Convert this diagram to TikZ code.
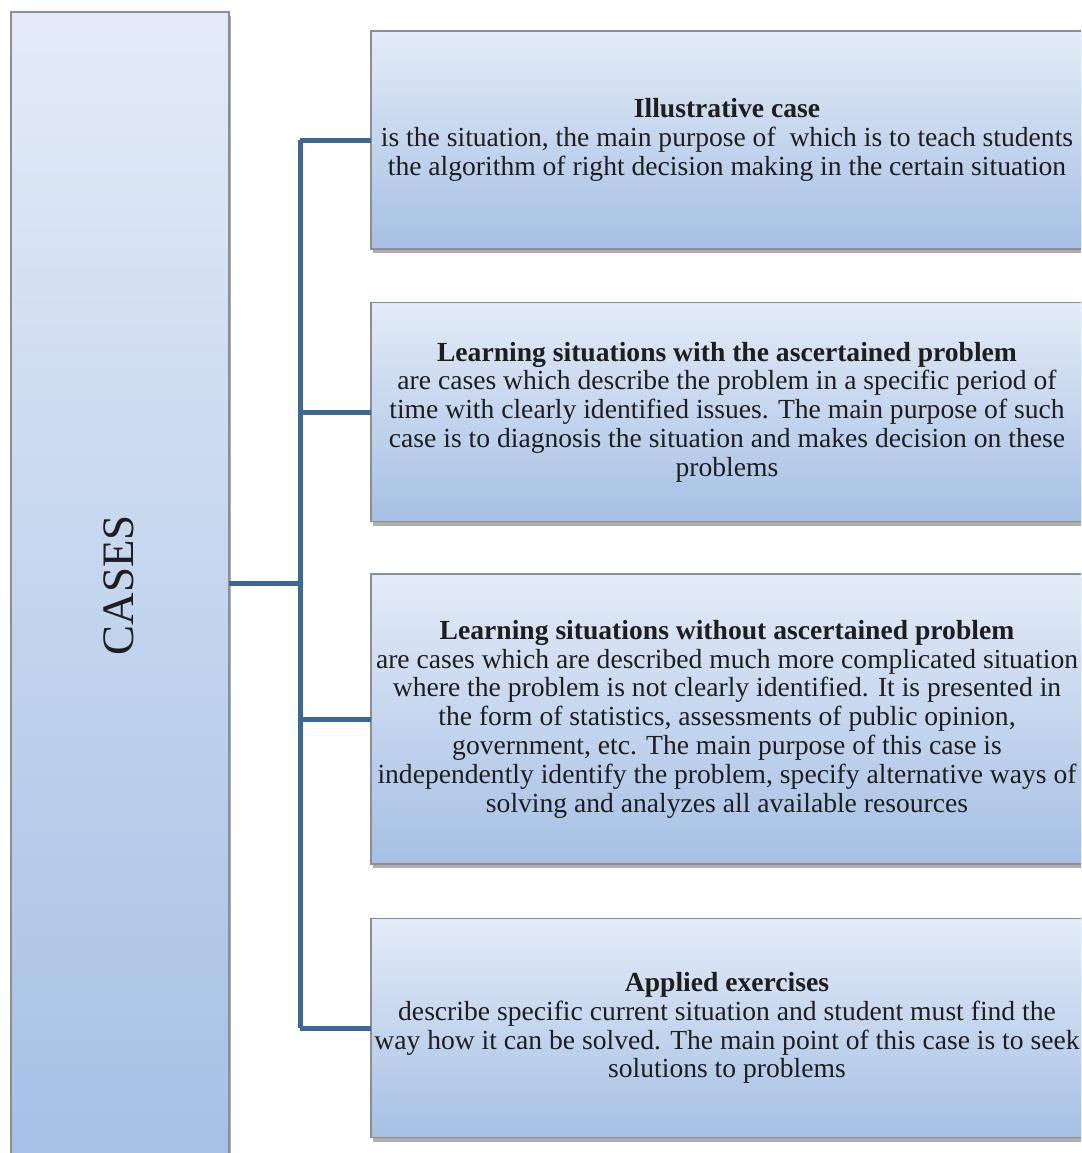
\documentclass[tikz,border=0pt]{standalone}
\usepackage{fontspec}
\setmainfont{Liberation Serif}
\usetikzlibrary{shadows}
\definecolor{boxtop}{HTML}{E3EBF7}
\definecolor{boxbot}{HTML}{A6C0E5}
\definecolor{linkblue}{HTML}{3D6699}
\definecolor{edgegray}{HTML}{8A8E96}
\definecolor{ink}{HTML}{1E1E1E}
\begin{document}
\begin{tikzpicture}[x=1pt,y=-1pt,
  panel/.style={draw=edgegray, line width=1.2pt, top color=boxtop, bottom color=boxbot,
    inner sep=0pt, outer sep=0pt,
    drop shadow={shadow xshift=1.5pt, shadow yshift=-4pt, opacity=0.45, fill=black!70}},
  casebox/.style={panel, minimum width=712pt, text=ink, align=center,
    font=\fontsize{27.6}{28.8}\selectfont},
  link/.style={draw=linkblue, line width=5pt}]
\useasboundingbox (0,0) rectangle (1081,1153);
\clip (0,0) rectangle (1081,1153);

% main category column
\node[panel, minimum width=218pt, minimum height=1150pt] (cases) at (120,587) {};
\node[rotate=90, text=ink, font=\fontsize{45}{50}\selectfont] (casestitle) at (119,585) {CASES};

% the four kinds of cases
\node[casebox, minimum height=218pt] (b1) at (727,140)
  {\textbf{Illustrative case}\\
   is the situation, the main purpose of\ \ which is to teach students\\
   the algorithm of right decision making in the certain situation};
\node[casebox, minimum height=219pt] (b2) at (727,412)
  {\textbf{Learning situations with the ascertained problem}\\
   are cases which describe the problem in a specific period of\\
   time with clearly identified issues. The main purpose of such\\
   case is to diagnosis the situation and makes decision on these\\
   problems};
\node[casebox, minimum height=290pt] (b3) at (727,719)
  {\textbf{Learning situations without ascertained problem}\\
   are cases which are described much more complicated situation\\
   where the problem is not clearly identified. It is presented in\\
   the form of statistics, assessments of public opinion,\\
   government, etc. The main purpose of this case is\\
   independently identify the problem, specify alternative ways of\\
   solving and analyzes all available resources};
\node[casebox, minimum height=219pt] (b4) at (727,1028)
  {\textbf{Applied exercises}\\
   describe specific current situation and student must find the\\
   way how it can be solved. The main point of this case is to seek\\
   solutions to problems};

% bracket connectors
\coordinate (hub) at (300,583);
\draw[link] (cases.east |- hub) -- (hub);
\draw[link] (hub |- b1.west) -- (hub |- b4.west);
\foreach \b in {b1,b2,b3,b4}
  \draw[link] (hub |- \b.west) -- (\b.west);
\end{tikzpicture}
\end{document}
